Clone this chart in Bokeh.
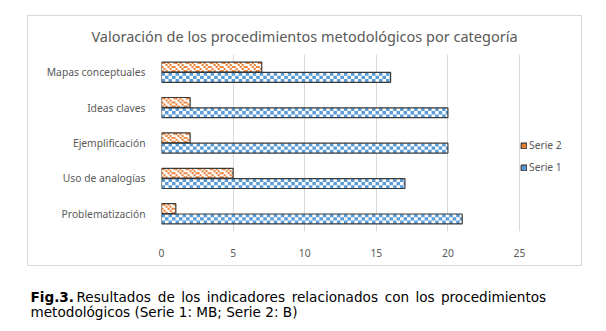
import math
from bokeh.plotting import figure
from bokeh.layouts import column, row
from bokeh.models import (ColumnDataSource, Range1d, FactorRange, FixedTicker, Legend, LegendItem,
                          Label, Spacer)
from bokeh.transform import dodge
from bokeh.embed import file_html
from bokeh.resources import INLINE

categories = ["Problematización", "Uso de analogías", "Ejemplificación", "Ideas claves", "Mapas conceptuales"]
serie1 = [21, 17, 20, 20, 16]
serie2 = [1, 5, 2, 2, 7]
x_ticks = [0, 5, 10, 15, 20, 25]
title_text = "Valoración de los procedimientos metodológicos por categoría"
caption_bold = "Fig.3."
caption_line1 = "Resultados de los indicadores relacionados con los procedimientos"
caption_line2 = "metodológicos (Serie 1: MB; Serie 2: B)"

# ---- layout / style constants ----
BAR_H = 0.28
OFF1, OFF2 = -0.145, 0.145
BLUE, ORANGE, EDGE = "#5b9bd5", "#ed7d31", "#3a3a3a"
TXT = "#595959"
BOX = "#d9d9d9"
X_VIEW_END = 29.33   # frame runs on to the box edge so the legend can sit inside it

src = ColumnDataSource(dict(cat=categories, s1=serie1, s2=serie2))

p = figure(width=553, height=211, output_backend="svg", toolbar_location=None,
           y_range=FactorRange(*categories), x_range=Range1d(0, X_VIEW_END),
           min_border_left=133, min_border_right=0, min_border_top=0, min_border_bottom=34,
           outline_line_color=None, background_fill_color="white", border_fill_color="white")


def pattern_rows(values, dx, nrows, center, cond):
    """Split each bar into small cells (texture emulation) grouped by row."""
    rows = []
    for j in range(nrows):
        cats, lefts, rights = [], [], []
        for cat, v in zip(categories, values):
            n = int(math.ceil(v / dx - 1e-9))
            for i in range(n):
                if cond(i, j):
                    cats.append(cat)
                    lefts.append(i * dx)
                    rights.append(min((i + 1) * dx, v))
        off = center - BAR_H / 2 + (j + 0.5) * BAR_H / nrows
        rows.append((off, dict(cat=cats, left=lefts, right=rights)))
    return rows


# white bodies
p.hbar(y=dodge("cat", OFF1, range=p.y_range), right="s1", left=0, height=BAR_H, source=src,
       fill_color="white", line_color=None)
p.hbar(y=dodge("cat", OFF2, range=p.y_range), right="s2", left=0, height=BAR_H, source=src,
       fill_color="white", line_color=None)

# checker texture for Serie 1
cell_renderers1 = []
for off, d in pattern_rows(serie1, 0.245, 3, OFF1, lambda i, j: (i + j) % 2 == 0):
    r = p.hbar(y=dodge("cat", off, range=p.y_range), left="left", right="right", height=BAR_H / 3,
               source=ColumnDataSource(d), fill_color=BLUE, line_color=None)
    cell_renderers1.append(r)

# speckle texture for Serie 2
tile = [[1, 0, 1, 0, 0, 1],
        [0, 1, 0, 0, 1, 0],
        [1, 0, 0, 1, 0, 1],
        [0, 0, 1, 0, 1, 0],
        [1, 1, 0, 1, 0, 0]]
cell_renderers2 = []
for off, d in pattern_rows(serie2, 0.14, 5, OFF2, lambda i, j: tile[j % 5][i % 6] == 1):
    r = p.hbar(y=dodge("cat", off, range=p.y_range), left="left", right="right", height=BAR_H / 5,
               source=ColumnDataSource(d), fill_color=ORANGE, line_color=None)
    cell_renderers2.append(r)

# outlines
o1 = p.hbar(y=dodge("cat", OFF1, range=p.y_range), right="s1", left=0, height=BAR_H, source=src,
            fill_color=None, line_color=EDGE, line_width=1.2)
o2 = p.hbar(y=dodge("cat", OFF2, range=p.y_range), right="s2", left=0, height=BAR_H, source=src,
            fill_color=None, line_color=EDGE, line_width=1.2)

p.xaxis.ticker = FixedTicker(ticks=x_ticks)
for ax in (p.xaxis[0], p.yaxis[0]):
    ax.axis_line_color = None
    ax.major_tick_line_color = None
    ax.minor_tick_line_color = None
    ax.major_label_text_color = TXT
    ax.major_label_text_font = "Noto Sans"
    ax.major_label_text_font_size = "10.3px"
p.xaxis.major_label_standoff = 11
p.yaxis.major_label_standoff = 10
p.ygrid.grid_line_color = None
p.xgrid.grid_line_color = "#d9d9d9"
p.xgrid.grid_line_width = 1

legend = Legend(items=[LegendItem(label="Serie 2", renderers=[cell_renderers2[0], o2]),
                       LegendItem(label="Serie 1", renderers=[cell_renderers1[0], o1])],
                location=(359, 57), label_text_font="Noto Sans", label_text_font_size="10.3px",
                label_text_color=TXT, glyph_width=7, glyph_height=7, spacing=8,
                background_fill_alpha=0, border_line_color=None, padding=2, label_standoff=2,
                margin=0)
p.add_layout(legend, "center")

# ---- title strip (data units == pixels) ----
tfig = figure(width=553, height=38, output_backend="svg", toolbar_location=None,
              x_range=Range1d(0, 553), y_range=Range1d(0, 38),
              x_axis_location=None, y_axis_location=None, min_border=0, outline_line_color=None)
tfig.grid.grid_line_color = None
tfig.add_layout(Label(x=276, y=19, text=title_text, text_font="Noto Sans", text_font_size="14.5px",
                      text_color=TXT, text_align="center", text_baseline="middle"))

# ---- caption (separate figure, data units == pixels) ----
cap = figure(width=606, height=65, output_backend="svg", toolbar_location=None,
             x_range=Range1d(0, 606), y_range=Range1d(0, 65),
             x_axis_location=None, y_axis_location=None, min_border=0,
             outline_line_color=None)
cap.grid.grid_line_color = None

# approximate DejaVu Sans advance widths (em) used to justify the first caption line
EM = {"R": .695, "a": .613, "c": .550, "d": .635, "e": .615, "i": .278, "l": .278, "m": .974,
      "n": .634, "o": .612, "p": .635, "r": .411, "s": .521, "t": .392, "u": .634}
CAP_FONT, CAP_PX = "DejaVu Sans", 13.6
words = caption_line1.split(" ")
widths = [sum(EM.get(ch, .6) for ch in w) * CAP_PX for w in words]
X_START, X_END = 76.0, 546.0
gap = (X_END - X_START - sum(widths)) / (len(words) - 1)
xs, cur = [], X_START
for w in widths:
    xs.append(cur)
    cur += w + gap

cap.add_layout(Label(x=30, y=35, text=caption_bold, text_font=CAP_FONT, text_font_size=f"{CAP_PX}px",
                     text_font_style="bold", text_color="#000000", text_baseline="middle"))
for wx, w in zip(xs, words):
    cap.add_layout(Label(x=wx, y=35, text=w, text_font=CAP_FONT, text_font_size=f"{CAP_PX}px",
                         text_color="#000000", text_baseline="middle"))
cap.add_layout(Label(x=30, y=20, text=caption_line2, text_font=CAP_FONT, text_font_size=f"{CAP_PX}px",
                     text_color="#000000", text_baseline="middle"))


def boxed_row(child, h):
    return row(Spacer(width=27, height=h), Spacer(width=1, height=h, background=BOX), child,
               Spacer(width=1, height=h, background=BOX), Spacer(width=24, height=h), spacing=0)


def hline():
    return row(Spacer(width=27, height=1), Spacer(width=555, height=1, background=BOX),
               Spacer(width=24, height=1), spacing=0)


layout = column(Spacer(width=606, height=15), hline(), boxed_row(tfig, 38), boxed_row(p, 211),
                hline(), cap, spacing=0)
open("out.html", "w").write(file_html(layout, INLINE))
